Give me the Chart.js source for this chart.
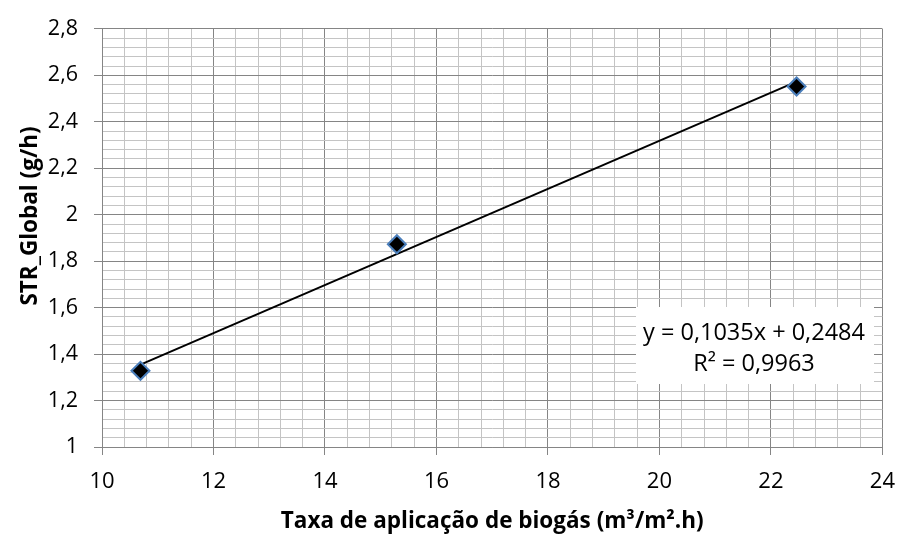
<!DOCTYPE html>
<html>
<head>
<meta charset="utf-8">
<title>STR_Global x Taxa de aplicação de biogás</title>
<script src="https://cdn.jsdelivr.net/npm/chart.js@4.4.1/dist/chart.umd.min.js"></script>
<style>
  html, body { margin: 0; padding: 0; background: #fff; }
  #box { width: 909px; height: 535px; }
</style>
</head>
<body>
<div id="box"><canvas id="myCanvas"></canvas></div>
<script>
'use strict';

// data

const biogasRate = [10.69, 15.29, 22.46];
const strGlobal = [1.328, 1.873, 2.552];

// linear trendline shown in the chart
const trendSlope = 0.1035;
const trendIntercept = 0.2484;
const trendText = ['y = 0,1035x + 0,2484', 'R² = 0,9963'];

// axes
const xTickLabels = ['10', '12', '14', '16', '18', '20', '22', '24'];
const yTickLabels = ['1', '1,2', '1,4', '1,6', '1,8', '2', '2,2', '2,4', '2,6', '2,8'];
const xTitle = 'Taxa de aplicação de biogás (m³/m².h)';
const yTitle = 'STR_Global (g/h)';

// look

const fontName = '"Open Sans", sans-serif';
const majorGrid = '#858585';
const minorGrid = '#c4c4c4';

function isMajor(value, step) {
  let k = value / step;
  return Math.abs(k - Math.round(k)) < 1e-6;
}

function labelFor(value, labels, first, step) {
  if (!isMajor(value - first, step)) {
    return '';
  }
  let i = Math.round((value - first) / step);
  return labels[i] || '';
}

// trendline runs between the first and last point
let trendX = [Math.min(...biogasRate), Math.max(...biogasRate)];
let trendPoints = trendX.map(x => ({ x: x, y: trendSlope * x + trendIntercept }));

let points = [];
for (let i = 0; i < biogasRate.length; i++) {
  points.push({ x: biogasRate[i], y: strGlobal[i] });
}

// titles and the equation box are drawn by hand
const extrasPlugin = {
  id: 'extras',
  afterDatasetsDraw(chart) {
    const ctx = chart.ctx;
    const area = chart.chartArea;
    ctx.save();

    // equation box
    ctx.fillStyle = '#ffffff';
    ctx.fillRect(636, 307, 238, 77);
    ctx.fillStyle = '#000';
    ctx.font = '23.5px ' + fontName;
    ctx.textAlign = 'center';
    ctx.textBaseline = 'middle';
    ctx.fillText(trendText[0], 754, 333);
    ctx.fillText(trendText[1], 754, 364);

    // x title
    ctx.font = 'bold 22.5px ' + fontName;
    ctx.fillText(xTitle, (area.left + area.right) / 2, 522);

    // y title
    ctx.translate(31, 216);
    ctx.rotate(-Math.PI / 2);
    ctx.fillText(yTitle, 0, 0);
    ctx.restore();
  }
};

const data = {
  datasets: [{
    type: 'scatter',
    label: 'STR_Global',
    data: points,
    pointStyle: 'rectRot',
    pointRadius: 9,
    pointHoverRadius: 9,
    pointBackgroundColor: '#000000',
    pointBorderColor: '#4a7ebb',
    pointBorderWidth: 2,
    order: 1
  },
  {
    type: 'line',
    label: 'Linear',
    data: trendPoints,
    borderColor: '#000000',
    borderWidth: 2,
    pointRadius: 0,
    fill: false,
    order: 2
  }]
};

const config = {
  type: 'scatter',
  data: data,
  plugins: [extrasPlugin],
  options: {
    responsive: true,
    maintainAspectRatio: false,
    animation: false,
    layout: {
      padding: { top: 25, right: 15, left: 0, bottom: 0 }
    },
    plugins: {
      legend: { display: false },
      tooltip: { enabled: false }
    },
    scales: {
      x: {
        type: 'linear',
        min: 10,
        max: 24,
        afterFit(scale) {
          scale.height = 88;
        },
        border: { color: majorGrid, width: 1 },
        grid: {
          color: c => isMajor(c.tick.value - 10, 2) ? majorGrid : minorGrid,
          tickColor: c => isMajor(c.tick.value - 10, 2) ? majorGrid : 'rgba(0,0,0,0)',
          tickLength: 8,
          lineWidth: 1
        },
        ticks: {
          stepSize: 0.4,
          autoSkip: false,
          maxRotation: 0,
          padding: 14,
          color: '#000',
          font: { family: fontName, size: 22 },
          callback: value => labelFor(value, xTickLabels, 10, 2)
        }
      },
      y: {
        type: 'linear',
        min: 1,
        max: 2.8,
        afterFit(scale) {
          scale.width = 102;
        },
        border: { color: majorGrid, width: 1 },
        grid: {
          color: c => isMajor(c.tick.value - 1, 0.2) ? majorGrid : minorGrid,
          tickColor: c => isMajor(c.tick.value - 1, 0.2) ? majorGrid : 'rgba(0,0,0,0)',
          tickLength: 8,
          lineWidth: 1
        },
        ticks: {
          stepSize: 0.04,
          autoSkip: false,
          padding: 16,
          color: '#000',
          font: { family: fontName, size: 21.5 },
          callback: value => labelFor(value, yTickLabels, 1, 0.2)
        }
      }
    }
  }
};

const chart = document.getElementById('myCanvas');
const myChart = new Chart(chart, config);
</script>
</body>
</html>
